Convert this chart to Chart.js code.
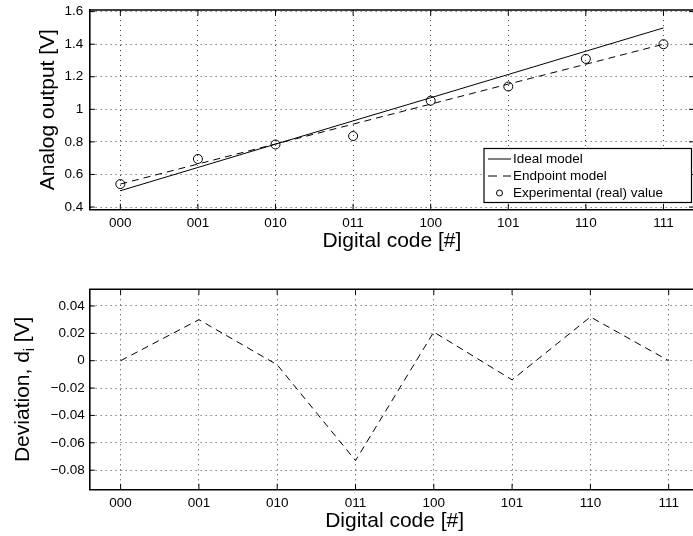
<!DOCTYPE html>
<html><head><meta charset="utf-8">
<script src="https://cdn.jsdelivr.net/npm/chart.js@4/dist/chart.umd.min.js"></script>
<style>
html,body{margin:0;padding:0;background:#fff;overflow:hidden;width:693px;height:536px;}
#wrap{position:relative;width:700px;height:536px;overflow:hidden;}
canvas{position:absolute;left:0;display:block;}
#c1{top:0}
#c2{top:268px}
</style></head><body>
<div id="wrap">
<canvas id="c1" width="700" height="268"></canvas>
<canvas id="c2" width="700" height="268"></canvas>
</div>
<script>
// ---- data ----
const codes = ['000','001','010','011','100','101','110','111'];
const idealModel = [0.500, 0.643, 0.786, 0.929, 1.071, 1.214, 1.357, 1.500];
const endpointModel = [0.541, 0.664, 0.787, 0.909, 1.032, 1.155, 1.277, 1.400];
const experimental = [0.541, 0.695, 0.784, 0.836, 1.053, 1.140, 1.310, 1.400];
const deviation = [0.000, 0.030, -0.003, -0.073, 0.021, -0.014, 0.032, 0.000];
const topYTicks = [0.4, 0.6, 0.8, 1, 1.2, 1.4, 1.6];
const topYLabels = ['0.4', '0.6', '0.8', '1', '1.2', '1.4', '1.6'];
const botYTicks = [-0.08, -0.06, -0.04, -0.02, 0, 0.02, 0.04];
const botYLabels = ['\u22120.08', '\u22120.06', '\u22120.04', '\u22120.02', '0', '0.02', '0.04'];

// ---- styling ----
const FONT = '"Liberation Sans", Arial, Helvetica, sans-serif';
Chart.defaults.font.family = FONT;
Chart.defaults.color = '#000';
const GRID = 'rgba(0,0,0,0.75)';
const AXW = 1.6;
const TICKLEN = 5.5;

function pts(arr) { return arr.map((v, i) => ({x: i, y: v})); }

function xScale(height, titlePad) {
  return {
    type: 'linear', min: -0.4, max: 7.4,
    afterBuildTicks: s => { s.ticks = codes.map((c, i) => ({value: i})); },
    afterFit: s => { s.height = height; s.paddingLeft = 0; s.paddingRight = 0; s.paddingTop = 0; s.paddingBottom = 0; },
    grid: {color: GRID, lineWidth: 1, drawTicks: false},
    border: {display: true, color: '#000', width: AXW, dash: [1, 4]},
    ticks: {padding: 5.6, font: {size: 13.5}, color: '#000', maxRotation: 0, autoSkip: false,
            callback: v => codes[Math.round(v)]},
    title: {display: true, text: 'Digital code [#]', font: {size: 21}, color: '#000',
            padding: {top: 0, bottom: titlePad}}
  };
}
function yScale(min, max, ticks, labels, pad, title) {
  return {
    type: 'linear', min: min, max: max,
    afterBuildTicks: s => { s.ticks = ticks.map(v => ({value: v})); },
    afterFit: s => { s.width = 89.3; s.paddingTop = 0; s.paddingBottom = 0; },
    grid: {color: GRID, lineWidth: 1, drawTicks: false},
    border: {display: true, color: '#000', width: AXW, dash: [1, 4]},
    ticks: {padding: pad, font: {size: 13.5}, color: '#000', autoSkip: false,
            callback: (v, i) => labels[i]},
    title: title ? {display: true, text: title, font: {size: 21}, color: '#000', padding: {top: 35.5, bottom: 0}}
                 : {display: false}
  };
}

const framePlugin = {
  id: 'frame',
  afterDatasetsDraw(chart) {
    const ctx = chart.ctx, a = chart.chartArea;
    const xs = chart.scales.x, ys = chart.scales.y;
    ctx.save();
    ctx.strokeStyle = '#000';
    ctx.lineWidth = AXW;
    ctx.beginPath();
    ctx.moveTo(a.left, a.top); ctx.lineTo(a.right, a.top);
    ctx.lineTo(a.right, a.bottom);
    ctx.stroke();
    ctx.lineWidth = 1;
    ctx.beginPath();
    xs.ticks.forEach(t => {
      const px = xs.getPixelForValue(t.value);
      ctx.moveTo(px, a.bottom); ctx.lineTo(px, a.bottom - TICKLEN);
      ctx.moveTo(px, a.top); ctx.lineTo(px, a.top + TICKLEN);
    });
    ys.ticks.forEach(t => {
      const py = ys.getPixelForValue(t.value);
      ctx.moveTo(a.left, py); ctx.lineTo(a.left + TICKLEN, py);
      ctx.moveTo(a.right, py); ctx.lineTo(a.right - TICKLEN, py);
    });
    ctx.stroke();
    ctx.restore();
  }
};

const legendPlugin = {
  id: 'boxLegend',
  afterDraw(chart) {
    const ctx = chart.ctx;
    const bx = 484, by = 148.5, bw = 207.5, bh = 54;
    ctx.save();
    ctx.fillStyle = '#fff';
    ctx.fillRect(bx, by, bw, bh);
    ctx.strokeStyle = '#000';
    ctx.lineWidth = 1.2;
    ctx.strokeRect(bx, by, bw, bh);
    ctx.font = '13.5px ' + FONT;
    ctx.textBaseline = 'middle';
    ctx.textAlign = 'left';
    ctx.fillStyle = '#000';
    chart.data.datasets.forEach((ds, i) => {
      const y = 159 + 17 * i;
      ctx.lineWidth = 1;
      ctx.strokeStyle = '#000';
      if (ds.showLine === false) {
        ctx.beginPath();
        ctx.arc(499.5, y, 3, 0, Math.PI * 2);
        ctx.stroke();
      } else {
        ctx.setLineDash(ds.borderDash ? [9, 6] : []);
        ctx.beginPath();
        ctx.moveTo(488, y); ctx.lineTo(511, y);
        ctx.stroke();
        ctx.setLineDash([]);
      }
      ctx.fillText(ds.label, 513, y + 0.5);
    });
    ctx.restore();
  }
};

const devTitlePlugin = {
  id: 'devTitle',
  afterDraw(chart) {
    const ctx = chart.ctx, a = chart.chartArea;
    const cy = (a.top + a.bottom) / 2;
    const big = '21px ' + FONT, small = '14px ' + FONT;
    const t1 = 'Deviation, d', t2 = 'i', t3 = ' [V]';
    ctx.save();
    ctx.font = big; const w1 = ctx.measureText(t1).width, w3 = ctx.measureText(t3).width;
    ctx.font = small; const w2 = ctx.measureText(t2).width;
    const total = w1 + w2 + w3;
    ctx.translate(28.5, cy);
    ctx.rotate(-Math.PI / 2);
    ctx.fillStyle = '#000';
    ctx.textBaseline = 'alphabetic';
    ctx.textAlign = 'left';
    let x = -total / 2;
    ctx.font = big; ctx.fillText(t1, x, 0); x += w1;
    ctx.font = small; ctx.fillText(t2, x, 5); x += w2;
    ctx.font = big; ctx.fillText(t3, x, 0);
    ctx.restore();
  }
};

const common = {
  responsive: false, animation: false, devicePixelRatio: 1,
  plugins: {legend: {display: false}, tooltip: {enabled: false}},
  elements: {line: {tension: 0}}
};

new Chart(document.getElementById('c1'), {
  type: 'line',
  data: {
    datasets: [
      {label: 'Ideal model', data: pts(idealModel), borderColor: '#000', borderWidth: 1, pointRadius: 0, fill: false},
      {label: 'Endpoint model', data: pts(endpointModel), borderColor: '#000', borderWidth: 1, borderDash: [7, 5], pointRadius: 0, fill: false},
      {label: 'Experimental (real) value', data: pts(experimental), showLine: false, pointStyle: 'circle', pointRadius: 4.5,
       pointBorderColor: '#000', pointBackgroundColor: 'rgba(0,0,0,0)', pointBorderWidth: 1}
    ]
  },
  options: Object.assign({}, common, {
    layout: {padding: {top: 10, left: 0, right: 0, bottom: 0}},
    scales: {
      x: xScale(58.7, 14.6),
      y: yScale(0.386, 1.61, topYTicks, topYLabels, 6, 'Analog output [V]')
    }
  }),
  plugins: [framePlugin, legendPlugin]
});

new Chart(document.getElementById('c2'), {
  type: 'line',
  data: {
    datasets: [
      {label: 'Deviation', data: pts(deviation), borderColor: '#000', borderWidth: 1, borderDash: [7, 5], pointRadius: 0, fill: false}
    ]
  },
  options: Object.assign({}, common, {
    layout: {padding: {top: 21.3, left: 0, right: 0, bottom: 0}},
    scales: {
      x: xScale(46.7, 2.1),
      y: yScale(-0.094, 0.0522, botYTicks, botYLabels, 4.5, null)
    }
  }),
  plugins: [framePlugin, devTitlePlugin]
});
</script>
</body></html>
